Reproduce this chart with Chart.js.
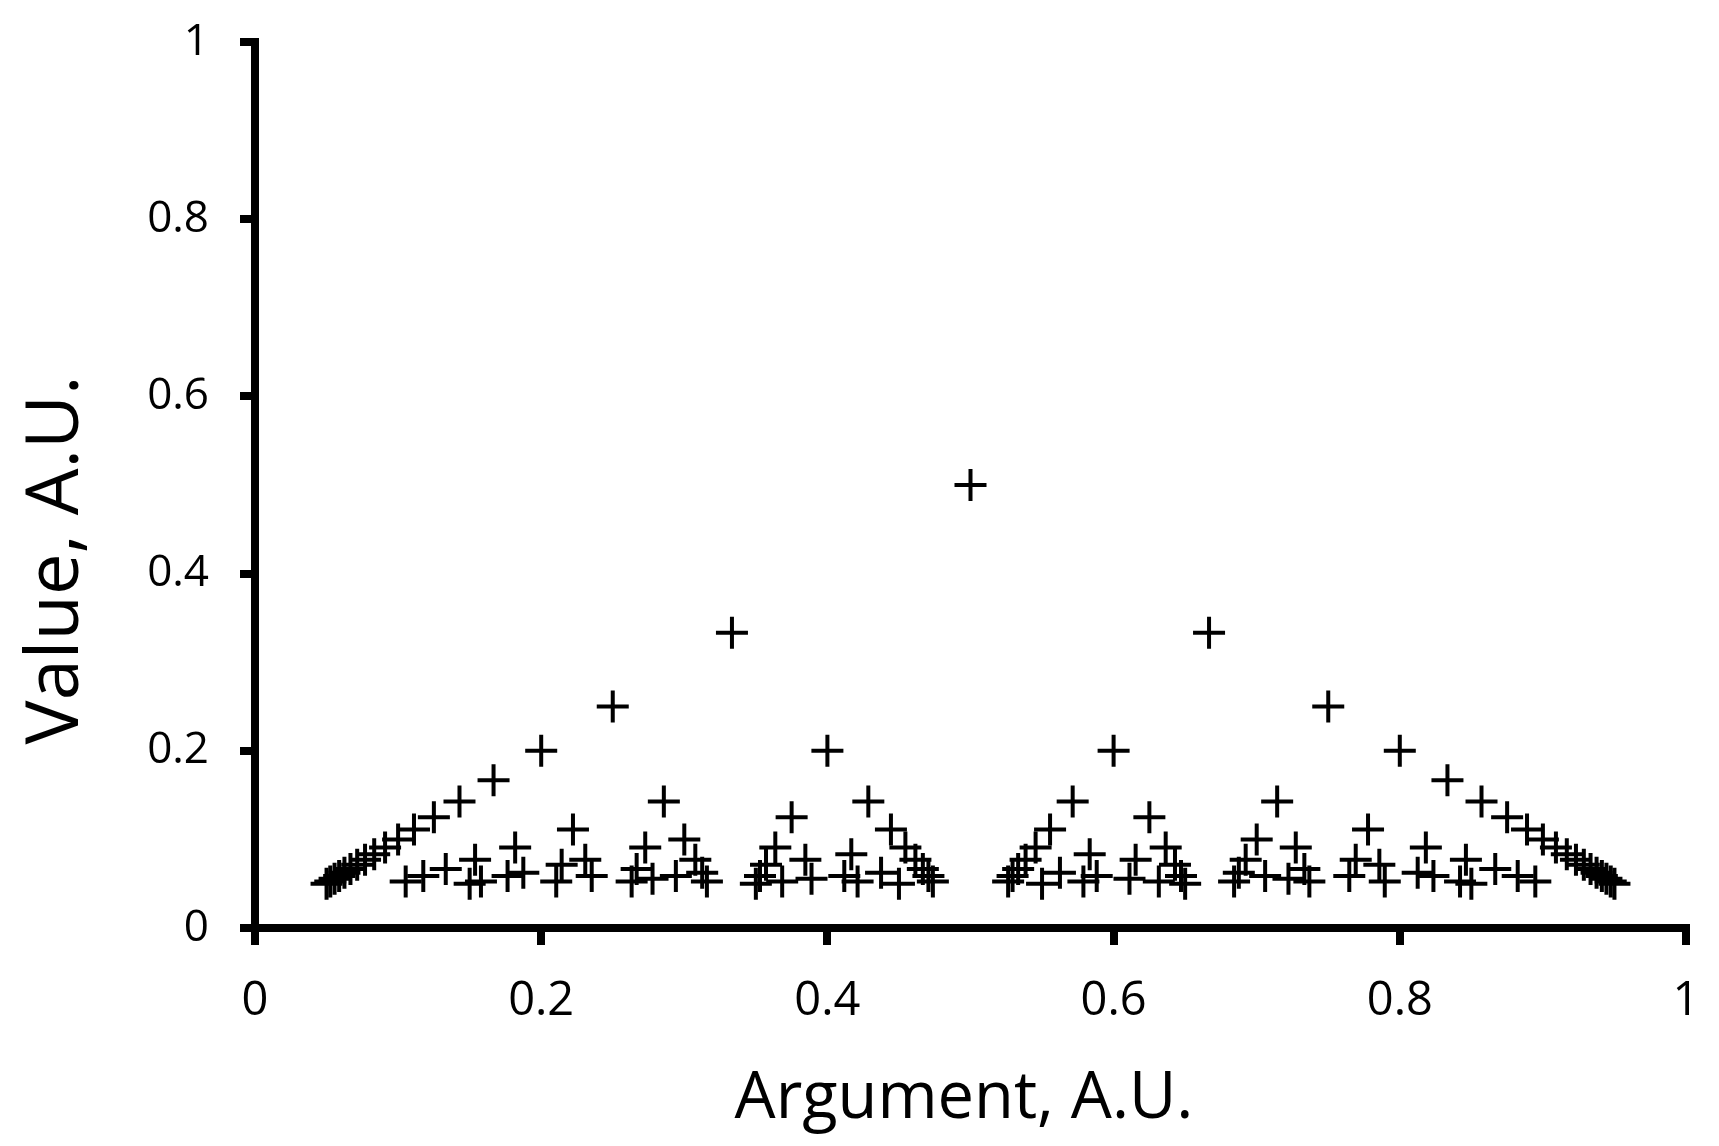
<!DOCTYPE html>
<html>
<head>
<meta charset="utf-8">
<script src="https://cdn.jsdelivr.net/npm/chart.js@4/dist/chart.umd.min.js"></script>
<style>
  html, body { margin: 0; padding: 0; background: #ffffff; }
  #wrap { width: 1719px; height: 1146px; }
</style>
</head>
<body>
<div id="wrap"><canvas id="c" width="1719" height="1146"></canvas></div>
<script>
const valueLevels = [0.5, 0.3333, 0.25, 0.2, 0.1667, 0.1429, 0.125, 0.1111, 0.1, 0.0909,
                     0.0833, 0.0769, 0.0714, 0.0667, 0.0625, 0.0588, 0.0556, 0.0526, 0.05];
const argumentsByLevel = [
  [0.5],
  [0.3333, 0.6667],
  [0.25, 0.75],
  [0.2, 0.4, 0.6, 0.8],
  [0.1667, 0.8333],
  [0.1429, 0.2857, 0.4286, 0.5714, 0.7143, 0.8571],
  [0.125, 0.375, 0.625, 0.875],
  [0.1111, 0.2222, 0.4444, 0.5556, 0.7778, 0.8889],
  [0.1, 0.3, 0.7, 0.9],
  [0.0909, 0.1818, 0.2727, 0.3636, 0.4545, 0.5455, 0.6364, 0.7273, 0.8182, 0.9091],
  [0.0833, 0.4167, 0.5833, 0.9167],
  [0.0769, 0.1538, 0.2308, 0.3077, 0.3846, 0.4615, 0.5385, 0.6154, 0.6923, 0.7692, 0.8462, 0.9231],
  [0.0714, 0.2143, 0.3571, 0.6429, 0.7857, 0.9286],
  [0.0667, 0.1333, 0.2667, 0.4667, 0.5333, 0.7333, 0.8667, 0.9333],
  [0.0625, 0.1875, 0.3125, 0.4375, 0.5625, 0.6875, 0.8125, 0.9375],
  [0.0588, 0.1176, 0.1765, 0.2353, 0.2941, 0.3529, 0.4118, 0.4706, 0.5294, 0.5882, 0.6471, 0.7059, 0.7647, 0.8235, 0.8824, 0.9412],
  [0.0556, 0.2778, 0.3889, 0.6111, 0.7222, 0.9444],
  [0.0526, 0.1053, 0.1579, 0.2105, 0.2632, 0.3158, 0.3684, 0.4211, 0.4737, 0.5263, 0.5789, 0.6316, 0.6842, 0.7368, 0.7895, 0.8421, 0.8947, 0.9474],
  [0.05, 0.15, 0.35, 0.45, 0.55, 0.65, 0.85, 0.95]
];
const tickValues = [0, 0.2, 0.4, 0.6, 0.8, 1];
const tickLabels = ['0', '0.2', '0.4', '0.6', '0.8', '1'];
const xAxisTitle = 'Argument, A.U.';
const yAxisTitle = 'Value, A.U.';

const points = [];
valueLevels.forEach((v, i) => {
  argumentsByLevel[i].forEach(a => points.push({ x: a, y: v }));
});

function tickLabel(value) {
  const i = tickValues.findIndex(t => Math.abs(t - value) < 1e-9);
  return i >= 0 ? tickLabels[i] : '';
}

const FONT = '"Open Sans", "Noto Sans", sans-serif';

function zeroPad(scale) {
  scale.paddingTop = 0; scale.paddingBottom = 0;
  scale.paddingLeft = 0; scale.paddingRight = 0;
}

const titlePlugin = {
  id: 'axisTitles',
  afterDraw(chart) {
    const ctx = chart.ctx;
    ctx.save();
    ctx.fillStyle = '#000';
    ctx.textAlign = 'center';
    ctx.textBaseline = 'alphabetic';
    ctx.font = '65px ' + FONT;
    ctx.fillText(xAxisTitle, 964, 1118);
    ctx.translate(78, 560);
    ctx.rotate(-Math.PI / 2);
    ctx.font = '74px ' + FONT;
    ctx.fillText(yAxisTitle, 0, 0);
    ctx.restore();
  }
};

new Chart(document.getElementById('c'), {
  type: 'scatter',
  data: {
    datasets: [{
      data: points,
      pointStyle: 'cross',
      pointRadius: 16,
      pointHoverRadius: 16,
      pointBorderWidth: 4,
      borderColor: '#000',
      backgroundColor: '#000'
    }]
  },
  options: {
    responsive: false,
    animation: false,
    devicePixelRatio: 1,
    events: [],
    layout: { padding: { top: 42, right: 33, bottom: 0, left: 0 } },
    plugins: { legend: { display: false }, tooltip: { enabled: false } },
    scales: {
      x: {
        type: 'linear',
        min: 0, max: 1,
        afterFit(scale) { scale.height = 218; zeroPad(scale); },
        border: { display: true, color: '#000', width: 8 },
        grid: { drawOnChartArea: false, drawTicks: true, tickLength: 17, color: '#000', lineWidth: 8 },
        ticks: { stepSize: 0.2, color: '#000', padding: 28, font: { family: FONT, size: 47 }, maxRotation: 0, callback: tickLabel }
      },
      y: {
        type: 'linear',
        min: 0, max: 1,
        afterFit(scale) { scale.width = 255; zeroPad(scale); },
        border: { display: true, color: '#000', width: 8 },
        grid: { drawOnChartArea: false, drawTicks: true, tickLength: 15, color: '#000', lineWidth: 8 },
        ticks: { stepSize: 0.2, color: '#000', padding: 31, font: { family: FONT, size: 44 }, callback: tickLabel }
      }
    }
  },
  plugins: [titlePlugin]
});
</script>
</body>
</html>
